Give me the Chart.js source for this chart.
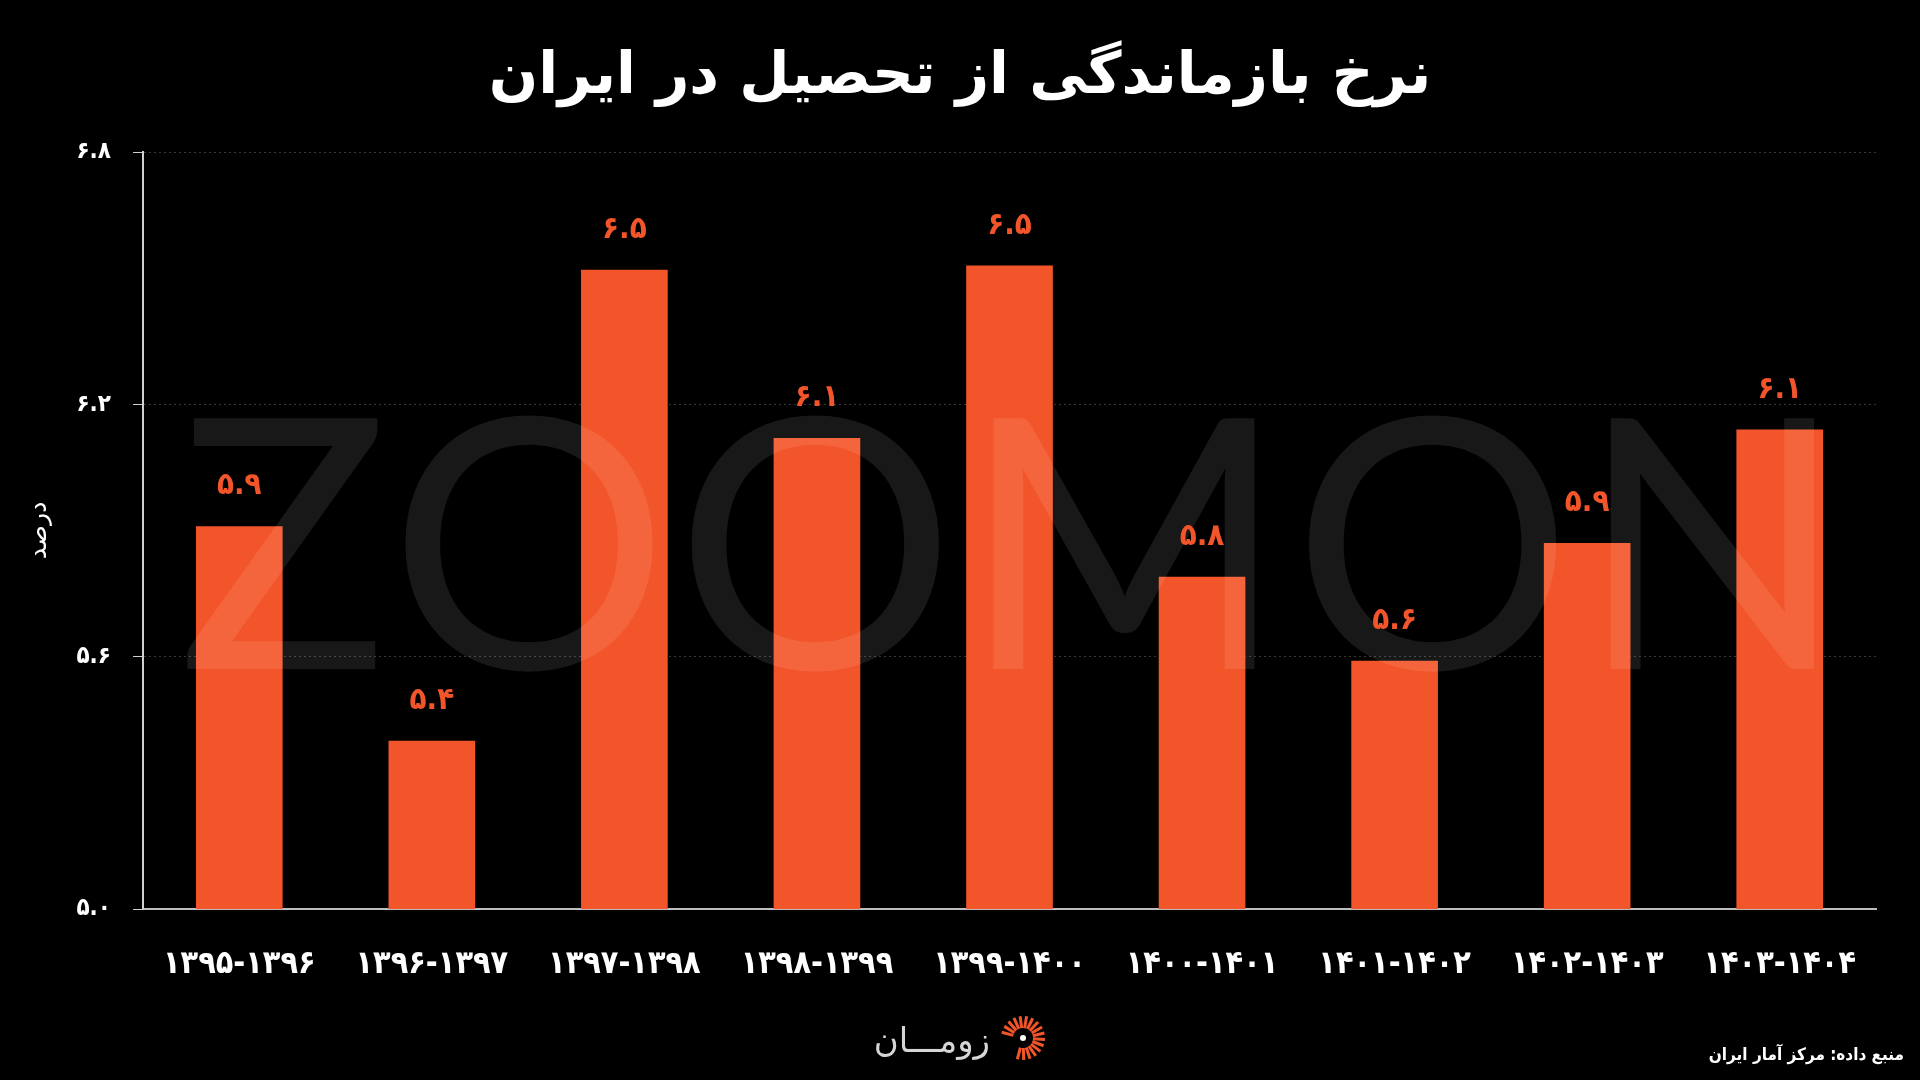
<!DOCTYPE html>
<html><head><meta charset="utf-8">
<script src="https://cdn.jsdelivr.net/npm/chart.js@4.4.1/dist/chart.umd.min.js"></script>
<style>html,body{margin:0;padding:0;background:#000;overflow:hidden}canvas{display:block}</style>
</head><body>
<canvas id="c" width="1920" height="1080"></canvas>
<script>
const chartTitle = 'نرخ بازماندگی از تحصیل در ایران';
const yAxisTitle = 'درصد';
const sourceText = 'منبع داده: مرکز آمار ایران';
const brandText = 'زومـــان';
const watermarkText = 'ZOOMON';
const categories = ['1395-1396','1396-1397','1397-1398','1398-1399','1399-1400','1400-1401','1401-1402','1402-1403','1403-1404'];
const values = [5.91, 5.40, 6.52, 6.12, 6.53, 5.79, 5.59, 5.87, 6.14];
const yTicks = [5.0, 5.6, 6.2, 6.8];

const BAR = '#f3552b';
const FA_DIGITS = '۰۱۲۳۴۵۶۷۸۹';
const fa = s => String(s).replace(/[0-9]/g, d => FA_DIGITS[d]);
const FONT = '"DejaVu Sans Condensed", "DejaVu Sans", sans-serif';

const decorPlugin = {
  id: 'decor',
  beforeDraw(chart) {
    const ctx = chart.ctx;
    ctx.save();
    ctx.fillStyle = '#000';
    ctx.fillRect(0, 0, chart.width, chart.height);
    ctx.restore();
  },
  afterDatasetsDraw(chart) {
    const ctx = chart.ctx;
    // watermark
    ctx.save();
    ctx.font = '400 350px Lato';
    ctx.fillStyle = 'rgba(255,255,255,0.095)';
    ctx.textAlign = 'left';
    ctx.textBaseline = 'alphabetic';
    const w = ctx.measureText(watermarkText).width;
    const target = 1668;
    const sp = (target - w) / (watermarkText.length - 1);
    ctx.letterSpacing = sp + 'px';
    ctx.fillText(watermarkText, 178, 669);
    ctx.restore();
    // value labels
    const meta = chart.getDatasetMeta(0);
    ctx.save();
    ctx.font = 'bold 31px ' + FONT;
    ctx.fillStyle = BAR;
    ctx.textAlign = 'center';
    ctx.textBaseline = 'middle';
    meta.data.forEach((bar, i) => {
      ctx.fillText(fa(values[i].toFixed(1)), bar.x, bar.y - 40);
    });
    ctx.restore();
  },
  afterDraw(chart) {
    const ctx = chart.ctx;
    ctx.save();
    // title
    ctx.fillStyle = '#fff';
    ctx.font = 'bold 58px "DejaVu Sans", sans-serif';
    ctx.textAlign = 'center';
    ctx.textBaseline = 'middle';
    ctx.direction = 'rtl';
    ctx.fillText(chartTitle, 960, 78);
    // source
    ctx.font = 'bold 17px "DejaVu Sans Condensed", "DejaVu Sans", sans-serif';
    ctx.textAlign = 'right';
    ctx.textBaseline = 'alphabetic';
    ctx.fillText(sourceText, 1904, 1060);
    // brand text
    ctx.fillStyle = '#d6d6d6';
    ctx.font = '34px "DejaVu Sans", sans-serif';
    ctx.fillText(brandText, 990, 1052);
    // brand icon
    ctx.direction = 'ltr';
    const cx = 1023, cy = 1038;
    ctx.strokeStyle = BAR;
    ctx.lineWidth = 3;
    ctx.lineCap = 'butt';
    for (let k = 0; k < 17; k++) {
      const a = (-165 + k * (270 / 16)) * Math.PI / 180;
      ctx.beginPath();
      ctx.moveTo(cx + Math.cos(a) * 10, cy + Math.sin(a) * 10);
      ctx.lineTo(cx + Math.cos(a) * 22, cy + Math.sin(a) * 22);
      ctx.stroke();
    }
    ctx.fillStyle = '#fff';
    ctx.beginPath();
    ctx.arc(cx, cy, 3, 0, Math.PI * 2);
    ctx.fill();
    ctx.restore();
  }
};

new Chart(document.getElementById('c'), {
  type: 'bar',
  data: {
    labels: categories,
    datasets: [{
      data: values,
      backgroundColor: BAR,
      borderWidth: 0,
      barPercentage: 0.45,
      categoryPercentage: 1.0
    }]
  },
  options: {
    responsive: false,
    animation: false,
    events: [],
    layout: { padding: { top: 152, right: 44, bottom: 0, left: 0 } },
    plugins: { legend: { display: false }, tooltip: { enabled: false }, title: { display: false } },
    scales: {
      x: {
        afterFit: s => { s.height = 171; },
        grid: { display: false, drawTicks: false },
        border: { display: true, color: '#bdbdbd', width: 2 },
        ticks: {
          color: '#fff',
          padding: 36,
          font: { family: FONT, weight: 'bold', size: 32 },
          callback: (v, i) => fa(categories[i])
        }
      },
      y: {
        min: 5.0,
        max: 6.8,
        afterFit: s => { s.width = 143; },
        afterBuildTicks: s => { s.ticks = yTicks.map(v => ({ value: v })); },
        grid: {
          color: ctx => (ctx.tick && ctx.tick.value === 5.0) ? 'rgba(0,0,0,0)' : 'rgba(255,255,255,0.22)',
          tickColor: '#cfcfcf',
          tickLength: 10,
          lineWidth: 1,
          tickBorderDash: []
        },
        border: { display: true, color: '#d0d0d0', width: 2, dash: [2, 3] },
        title: {
          display: true,
          text: yAxisTitle,
          color: '#fff',
          font: { family: '"DejaVu Sans", sans-serif', weight: 'normal', size: 25 },
          padding: { top: 24, bottom: 0 }
        },
        ticks: {
          color: '#fff',
          padding: 22,
          font: { family: FONT, weight: 'bold', size: 24 },
          callback: v => fa(Number(v).toFixed(1))
        }
      }
    }
  },
  plugins: [decorPlugin]
});
</script>
</body></html>
